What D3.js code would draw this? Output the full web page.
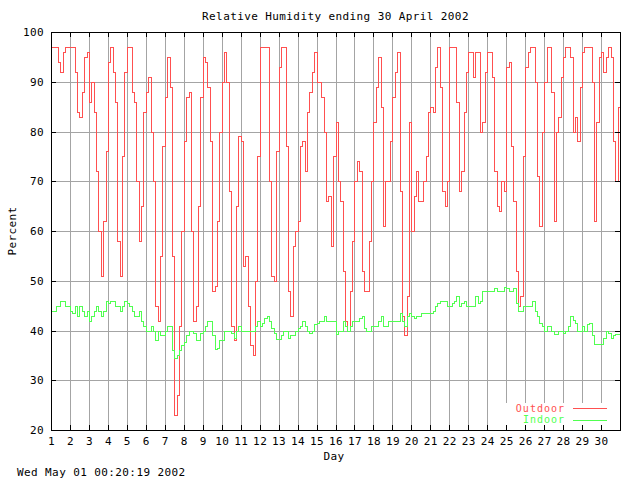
<!DOCTYPE html>
<html>
<head>
<meta charset="utf-8">
<script src="https://cdnjs.cloudflare.com/ajax/libs/d3/7.8.5/d3.min.js"></script>
<style>
  body { margin: 0; background: #fff; }
  text { font-family: "DejaVu Sans Mono", "Liberation Mono", monospace; font-size: 11px; letter-spacing: 0.4px; fill: #000; }
  .key text { font-size: 10px; letter-spacing: 1px; }
</style>
</head>
<body>
<div id="canvas"></div>
<script>
const days = [1, 2, 3, 4, 5, 6, 7, 8, 9, 10, 11, 12, 13, 14, 15, 16, 17, 18, 19, 20,
  21, 22, 23, 24, 25, 26, 27, 28, 29, 30];
const percentTicks = [20, 30, 40, 50, 60, 70, 80, 90, 100];

// one reading every 3 hours, from 1 April 00:00 to 1 May 00:00
const samplesPerDay = 8;
const outdoor = [
  97, 97, 97, 94, 92, 96, 97, 97,
  97, 97, 92, 84, 83, 88, 95, 96,
  86, 90, 84, 72, 60, 51, 62, 76,
  94, 97, 92, 86, 58, 51, 75, 92,
  97, 97, 88, 86, 70, 58, 65, 84,
  88, 91, 80, 70, 45, 42, 55, 77,
  87, 95, 89, 55, 23, 27, 41, 60,
  78, 87, 88, 60, 42, 45, 65, 87,
  95, 94, 89, 78, 48, 49, 62, 80,
  90, 96, 90, 68, 41, 38, 65, 79,
  78, 53, 55, 45, 37, 35, 50, 75,
  97, 97, 97, 97, 70, 51, 50, 76,
  93, 97, 97, 77, 48, 43, 57, 60,
  62, 77, 78, 72, 84, 88, 92, 96,
  90, 90, 87, 80, 66, 67, 57, 75,
  82, 70, 66, 52, 42, 40, 48, 58,
  70, 74, 72, 52, 48, 48, 58, 70,
  82, 89, 95, 85, 61, 70, 70, 78,
  87, 92, 96, 68, 43, 39, 47, 82,
  60, 67, 72, 66, 66, 70, 75, 84,
  85, 84, 93, 97, 89, 68, 65, 70,
  97, 97, 97, 86, 68, 72, 84, 92,
  96, 96, 91, 96, 96, 80, 82, 92,
  96, 96, 91, 72, 65, 64, 70, 68,
  93, 94, 77, 66, 52, 45, 47, 75,
  93, 96, 97, 97, 90, 71, 61, 80,
  90, 97, 97, 88, 62, 80, 83, 91,
  95, 97, 97, 95, 80, 83, 78, 89,
  96, 97, 97, 97, 90, 62, 82, 95,
  96, 92, 95, 97, 95, 78, 70, 85,
  96
];
const indoor = [
  44, 44, 45, 45, 46, 46, 45, 45,
  44, 43.5, 45, 43, 45, 44, 43, 44,
  42, 43, 44, 45, 44, 43, 44, 46,
  45.5, 46, 46, 45, 45, 44, 45, 46,
  45.5, 45, 44, 43, 43, 44, 42, 41,
  40, 40, 41, 40, 38, 40, 39, 39,
  40, 41, 41, 36, 34.5, 35, 36, 37,
  37.6, 39, 40, 40, 39.5, 38, 38, 39.5,
  40, 41, 42, 42, 39, 36.3, 36.5, 38,
  38, 40, 40, 40, 39.5, 38.5, 40, 41,
  40, 40, 40, 40, 40, 40, 41, 42,
  41, 41.5, 42.5, 43, 42, 40.5, 39.5, 38.2,
  38.2, 39, 40, 40, 38.5, 39, 39, 40,
  40.5, 41, 42, 41, 40, 39.5, 40, 41.3,
  41.5, 42, 42, 43, 42, 42, 42, 42,
  39.2, 40, 40, 42, 41, 40, 41, 42,
  42, 42, 42.5, 43, 40.5, 40, 40, 41,
  41, 41, 42, 43, 41, 41, 42, 42,
  42, 42, 42, 43.5, 42, 41, 43, 43.5,
  43, 42.5, 43, 43, 43.5, 43.5, 43.5, 43.5,
  43.5, 44, 45, 45.5, 46, 46, 46, 45,
  45, 45.5, 46, 47, 45, 45.5, 46, 45,
  45, 45, 45, 47, 45.5, 46, 48, 48,
  48, 48, 48, 48.5, 48, 48, 48, 48.7,
  48.5, 48, 48, 48.5, 45.5, 44, 44, 45,
  45, 45, 45, 46, 44, 43, 41.5, 41,
  40, 41, 41, 40, 39.2, 39.2, 40, 40,
  39.5, 40, 41, 43, 42.2, 41.5, 40, 40,
  41, 40, 41.3, 41.5, 39, 37.2, 37.2, 37.2,
  37.2, 38.5, 40, 39.5, 38.5, 39, 39.2, 39.2,
  39.2
];

const series = [
  { name: "Outdoor", values: outdoor, color: "#ff5050" },
  { name: "Indoor", values: indoor, color: "#50ff50" },
];

const width = 640;
const height = 480;
const plotLeft = 51, plotRight = 620, plotTop = 32, plotBottom = 430;

const svg = d3.select("#canvas").append("svg")
  .attr("width", width)
  .attr("height", height);

const x = d3.scaleLinear().domain([1, 31]).range([plotLeft, plotRight]);
const y = d3.scaleLinear().domain([20, 100]).range([plotBottom, plotTop]);

// grid
svg.append("g")
  .attr("transform", `translate(0, ${plotBottom})`)
  .call(d3.axisBottom(x).tickValues(days.slice(1)).tickSize(-(plotBottom - plotTop)).tickFormat(""))
  .call(g => g.select(".domain").remove())
  .call(g => g.selectAll("line").attr("stroke", "#a4a4a4").attr("shape-rendering", "crispEdges"));

svg.append("g")
  .attr("transform", `translate(${plotLeft}, 0)`)
  .call(d3.axisLeft(y).tickValues(percentTicks.slice(1, -1)).tickSize(-(plotRight - plotLeft)).tickFormat(""))
  .call(g => g.select(".domain").remove())
  .call(g => g.selectAll("line").attr("stroke", "#a4a4a4").attr("shape-rendering", "crispEdges"));

// key box clears the grid
svg.append("rect")
  .attr("x", 500).attr("y", 403)
  .attr("width", plotRight - 500).attr("height", 22)
  .attr("fill", "#fff");

// data
const line = d3.line()
  .x((d, i) => x(1 + i / samplesPerDay) + 0.5)
  .y(d => y(d) + 0.5)
  .curve(d3.curveStepAfter);

svg.selectAll("path.series")
  .data(series)
  .enter()
  .append("path")
  .attr("class", "series")
  .attr("d", d => line(d.values))
  .attr("fill", "none")
  .attr("stroke", d => d.color)
  .attr("stroke-width", 1)
  .attr("shape-rendering", "crispEdges");

// axes with inward ticks
const tickStyle = g => {
  g.select(".domain").remove();
  g.selectAll("line").attr("stroke", "#000").attr("shape-rendering", "crispEdges");
};

svg.append("g")
  .attr("transform", `translate(${plotLeft}, 0)`)
  .call(d3.axisLeft(y).tickValues(percentTicks).tickSize(-5).tickPadding(7))
  .call(tickStyle)
  .call(g => g.attr("font-size", null).attr("font-family", null));

svg.append("g")
  .attr("transform", `translate(${plotRight}, 0)`)
  .call(d3.axisRight(y).tickValues(percentTicks).tickSize(-5).tickFormat(""))
  .call(tickStyle);

svg.append("g")
  .attr("transform", `translate(0, ${plotBottom})`)
  .call(d3.axisBottom(x).tickValues(days).tickSize(-5).tickPadding(7))
  .call(tickStyle)
  .call(g => g.attr("font-size", null).attr("font-family", null));

svg.append("g")
  .attr("transform", `translate(0, ${plotTop})`)
  .call(d3.axisTop(x).tickValues(days).tickSize(-5).tickFormat(""))
  .call(tickStyle);

// border
svg.append("rect")
  .attr("x", plotLeft + 0.5).attr("y", plotTop + 0.5)
  .attr("width", plotRight - plotLeft).attr("height", plotBottom - plotTop)
  .attr("fill", "none")
  .attr("stroke", "#000")
  .attr("shape-rendering", "crispEdges");

// key
const key = svg.selectAll("g.key")
  .data(series)
  .enter()
  .append("g")
  .attr("class", "key")
  .attr("transform", (d, i) => `translate(0, ${408 + i * 11.5})`);

key.append("text")
  .attr("x", 565)
  .attr("y", 3.5)
  .attr("text-anchor", "end")
  .style("fill", d => d.color)
  .text(d => d.name);

key.append("line")
  .attr("x1", 573).attr("x2", 607)
  .attr("y1", 0.5).attr("y2", 0.5)
  .attr("stroke", d => d.color)
  .attr("shape-rendering", "crispEdges");

// labels
svg.append("text")
  .attr("x", 335.5).attr("y", 20)
  .attr("text-anchor", "middle")
  .text("Relative Humidity ending 30 April 2002");

svg.append("text")
  .attr("x", 334).attr("y", 460)
  .attr("text-anchor", "middle")
  .text("Day");

svg.append("text")
  .attr("transform", "translate(16, 231) rotate(-90)")
  .attr("text-anchor", "middle")
  .text("Percent");

svg.append("text")
  .attr("x", 17).attr("y", 476)
  .text("Wed May 01 00:20:19 2002");
</script>
</body>
</html>
